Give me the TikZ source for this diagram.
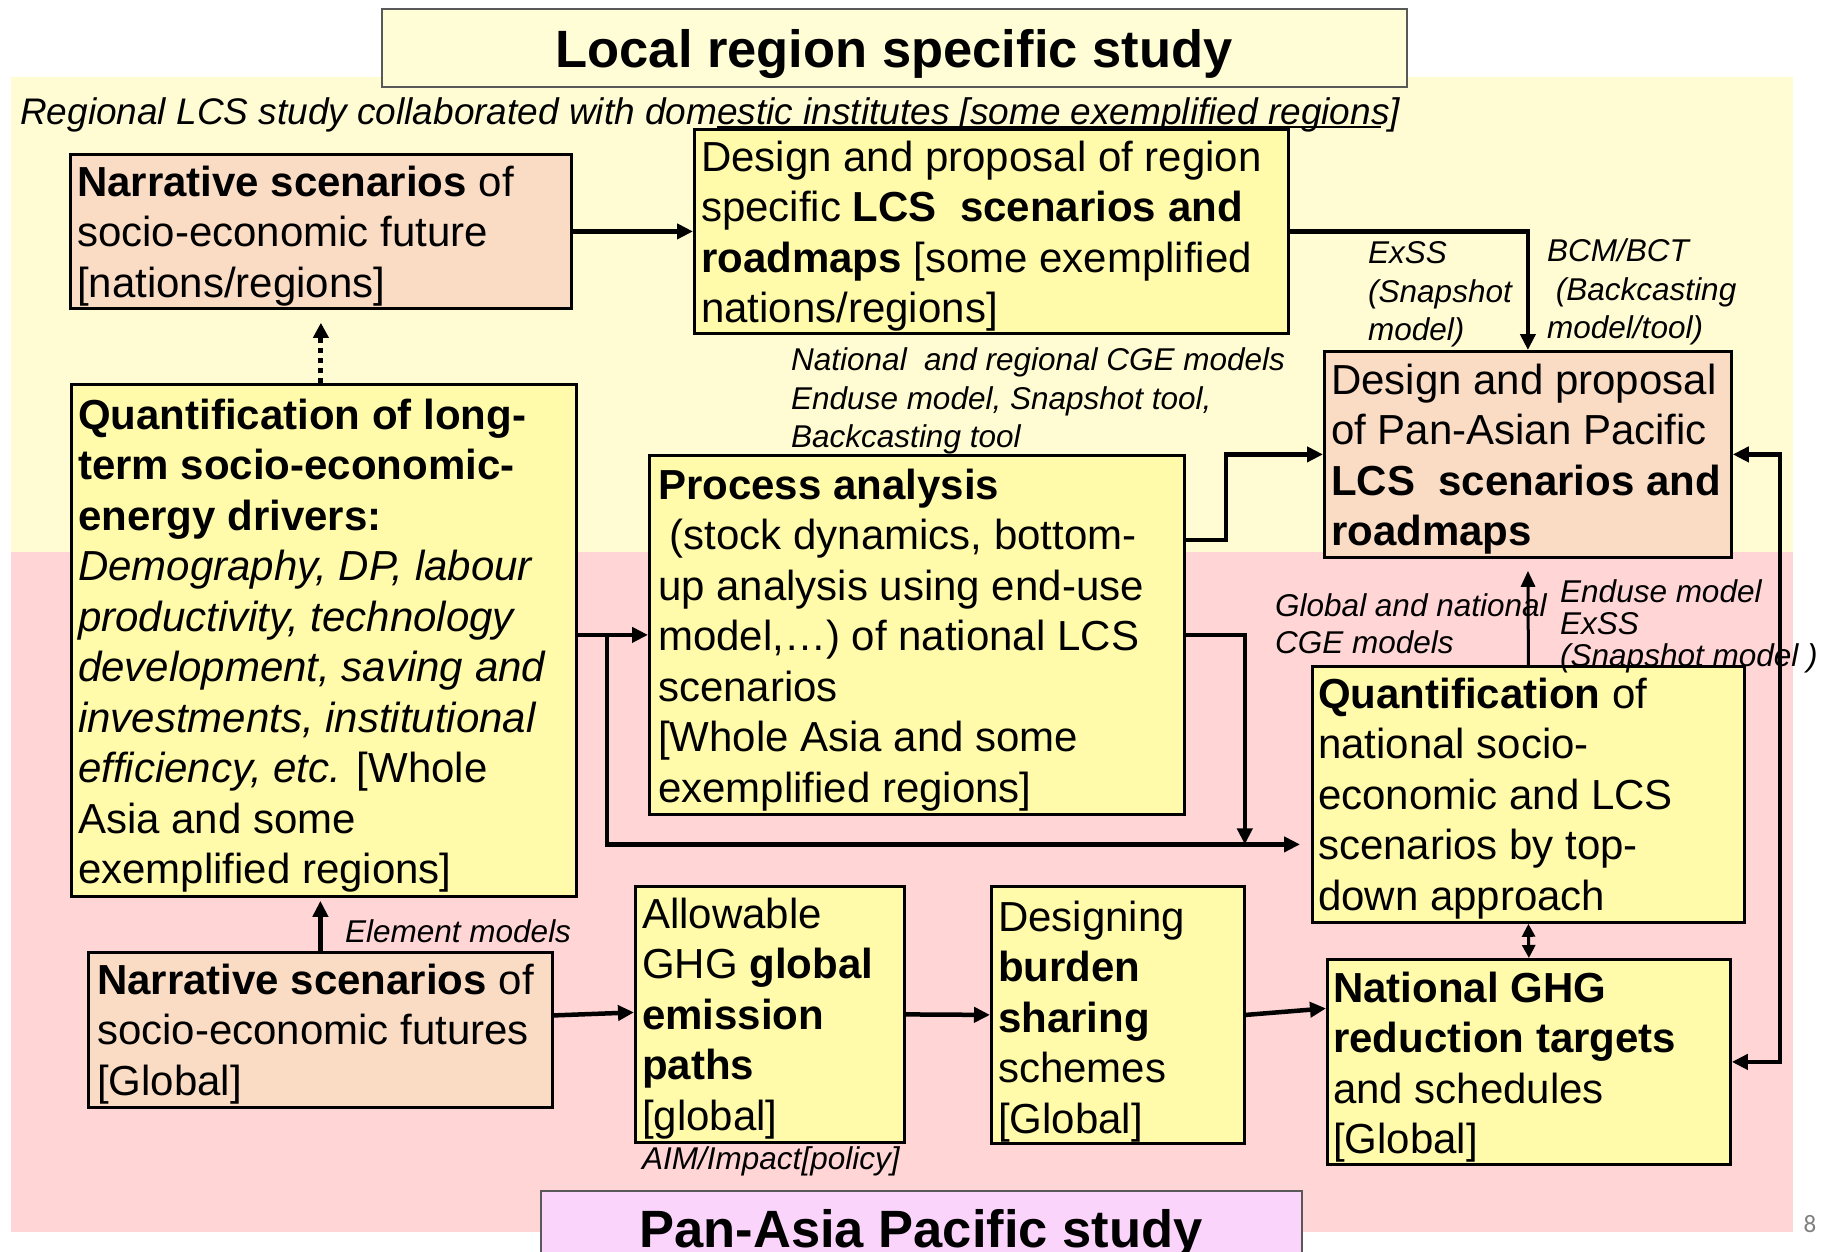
\documentclass[tikz,border=0pt]{standalone}
\usepackage{fontspec}
\setmainfont{Liberation Sans}
\newfontfamily\numfont{Carlito}
\usetikzlibrary{arrows.meta,calc}
\definecolor{creambg}{HTML}{FFFCD4}
\definecolor{pinkbg}{HTML}{FFD5D5}
\definecolor{byel}{HTML}{FFFBAA}
\definecolor{bpeach}{HTML}{FADCC4}
\definecolor{bmag}{HTML}{FBD4FB}
\definecolor{ttlfill}{HTML}{FFFDD6}
\begin{document}
\begin{tikzpicture}[x=1pt,y=-1pt,
  boxn/.style={draw=black, line width=2.8pt, inner sep=0pt, anchor=north west},
  txt/.style={anchor=north west, inner sep=0pt, align=left, font=\fontsize{42}{50.5}\selectfont},
  lbl/.style={anchor=north west, inner sep=0pt, align=left, font=\fontsize{31.5}{38.5}\selectfont\itshape},
  ttl/.style={anchor=base, inner sep=0pt, font=\fontsize{52.5}{60}\selectfont\bfseries},
  arr/.style={line width=4.5pt, -{Triangle[length=16pt,width=15pt]}},
  arrthin/.style={line width=3pt, -{Triangle[length=16pt,width=14pt]}},
  arrboth/.style={line width=4.5pt, {Triangle[length=16pt,width=15pt]}-{Triangle[length=16pt,width=15pt]}},
  arrbthin/.style={line width=3pt, {Triangle[length=13pt,width=13pt]}-{Triangle[length=13pt,width=13pt]}},
  arrdot/.style={line width=5pt, dash pattern=on 5pt off 5pt, -{Triangle[length=15pt,width=15pt]}}
]
\useasboundingbox (0,0) rectangle (1829,1251);
\fill[white] (0,0) rectangle (1829,1251);
% backgrounds
\fill[creambg] (11,77) rectangle (1793,552);
\fill[pinkbg] (11,552) rectangle (1793,1232);
% title boxes
\node[draw=black!65, line width=1.5pt, fill=ttlfill, minimum width=1025pt, minimum height=78pt, anchor=north west, inner sep=0pt] (t1) at (381,8) {};
\node[ttl] (t1t) at (894,67) {Local region specific study};
\node[draw=black!65, line width=1.5pt, fill=bmag, minimum width=761pt, minimum height=90pt, anchor=north west, inner sep=0pt] (t2) at (540,1190) {};
\node[ttl] (t2t) at (921,1247) {Pan-Asia Pacific study};
\node[anchor=base, inner sep=0pt, font=\fontsize{25}{30}\selectfont\numfont, text=black!50] (pg) at (1810,1232) {8};
% caption
\node[lbl, font=\fontsize{37}{44}\selectfont\itshape] (cap) at (20,93.7) {\strut Regional LCS study collaborated with domestic institutes [some exemplified regions]};
\draw[line width=1.3pt] (717,127) -- (1381,127);
% boxes
\node[boxn, fill=bpeach, minimum width=501pt, minimum height=154pt] (n1) at (69,153) {};
\node[boxn, fill=byel, minimum width=594pt, minimum height=204pt] (d1) at (693,128) {};
\node[boxn, fill=byel, minimum width=505pt, minimum height=512pt] (q1) at (70,383) {};
\node[boxn, fill=byel, minimum width=535pt, minimum height=359pt] (p) at (648,454) {};
\node[boxn, fill=bpeach, minimum width=407pt, minimum height=206pt] (d2) at (1323,350) {};
\node[boxn, fill=byel, minimum width=432pt, minimum height=256pt] (q2) at (1311,665) {};
\node[boxn, fill=bpeach, minimum width=464pt, minimum height=155pt] (n2) at (87,951) {};
\node[boxn, fill=byel, minimum width=269pt, minimum height=256pt] (a) at (634,885) {};
\node[boxn, fill=byel, minimum width=253pt, minimum height=257pt] (b) at (990,885) {};
\node[boxn, fill=byel, minimum width=403pt, minimum height=205pt] (g) at (1326,958) {};
% box texts
\node[txt] (n1t) at (77,160.7) {\strut\textbf{Narrative scenarios} of\\socio-economic future\\{[}nations/regions]};
\node[txt] (d1t) at (701,135.7) {\strut Design and proposal of region\\specific \textbf{LCS\ \ scenarios and}\\\textbf{roadmaps} [some exemplified\\nations/regions]};
\node[txt] (q1t) at (78,393.7) {\strut\textbf{Quantification of long-}\\\textbf{term socio-economic-}\\\textbf{energy drivers:}\\\textit{Demography, DP, labour}\\\textit{productivity, technology}\\\textit{development, saving and}\\\textit{investments, institutional}\\\textit{efficiency, etc.} [Whole\\Asia and some\\exemplified regions]};
\node[txt] (pt) at (658,463.7) {\strut\textbf{Process analysis}\\\ (stock dynamics, bottom-\\up analysis using end-use\\model,…) of national LCS\\scenarios\\{[}Whole Asia and some\\exemplified regions]};
\node[txt] (d2t) at (1331,358.7) {\strut Design and proposal\\of Pan-Asian Pacific\\\textbf{LCS\ \ scenarios and}\\\textbf{roadmaps}};
\node[txt] (q2t) at (1318,672.7) {\strut\textbf{Quantification} of\\national socio-\\economic and LCS\\scenarios by top-\\down approach};
\node[txt] (n2t) at (97,958.7) {\strut\textbf{Narrative scenarios} of\\socio-economic futures\\{[}Global]};
\node[txt] (at) at (642,892.7) {\strut Allowable\\GHG \textbf{global}\\\textbf{emission}\\\textbf{paths}\\{[}global]};
\node[txt] (bt) at (998,895.7) {\strut Designing\\\textbf{burden}\\\textbf{sharing}\\schemes\\{[}Global]};
\node[txt] (gt) at (1333,966.7) {\strut\textbf{National GHG}\\\textbf{reduction targets}\\and schedules\\{[}Global]};
% labels
\node[lbl] (l1) at (791,343.4) {\strut National\ \ and regional CGE models\\Enduse model, Snapshot tool,\\Backcasting tool};
\node[lbl] (l2) at (1368,236.4) {\strut ExSS\\(Snapshot\\model)};
\node[lbl] (l3) at (1547,234.4) {\strut BCM/BCT\\\ (Backcasting\\model/tool)};
\node[lbl, font=\fontsize{31.5}{37.5}\selectfont\itshape] (l4) at (1275,589.6) {\strut Global and national\\CGE models};
\node[lbl, font=\fontsize{31.5}{32}\selectfont\itshape] (l5) at (1560,579.9) {\strut Enduse model\\ExSS\\(Snapshot model )};
\node[lbl] (l6) at (345,915.4) {\strut Element models};
\node[lbl] (l7) at (642,1142.4) {\strut AIM/Impact[policy]};
% connectors
\draw[arr] (n1.east) -- (d1.west);
\draw[arr] (d1.east) -| (d2.north);
\draw[arrdot, shorten >=13pt] (n1.south |- q1.north) -- (n1.south);
\draw[arr] (q1.east |- p.west) -- (p.west);
\path (q1.east |- p.west) ++(29,0) coordinate (qj);
\coordinate (qin) at ([yshift=-50pt]q2.west);
\draw[arr, shorten >=11pt] (qj) |- (qin);
\draw[arr] ([yshift=-86pt]p.north east) -- ++(40,0) |- (d2.west);
\draw[arr] (p.east) -- ++(59,0) coordinate (pj) -- (pj |- qin);
\draw[arrthin, shorten >=12pt] (q2.north) -- (d2.south);
\draw[arrbthin] (q2.south) -- (g.north);
\draw[arrboth] (d2.east) -- ++(47,0) coordinate (lp) -- (lp |- g.east) -- (g.east);
\draw[arr, shorten >=3pt] (n2.north) -- (n2.north |- q1.south);
\draw[arr] ([yshift=14.5pt]n2.east) -- ([yshift=2pt]a.west);
\draw[arr] (a.east) -- (b.west);
\draw[arr] (b.east) -- ([yshift=53.5pt]g.west);
\end{tikzpicture}
\end{document}
